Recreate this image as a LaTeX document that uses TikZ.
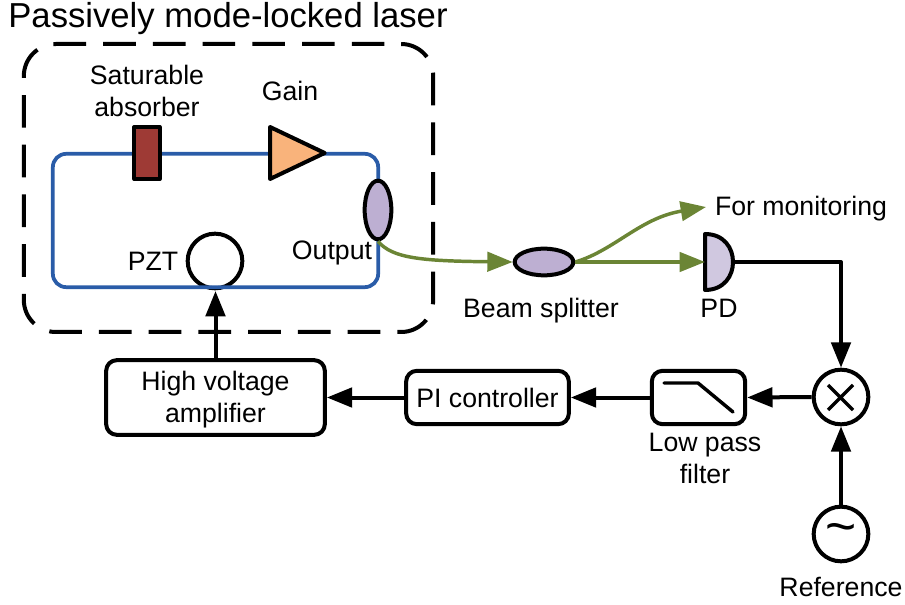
\documentclass[tikz,border=0pt]{standalone}
\usepackage{fontspec}
\setmainfont{Liberation Sans}
\usetikzlibrary{arrows.meta,shapes.geometric}
\definecolor{fibreblue}{HTML}{2A5CA8}
\definecolor{fibregreen}{HTML}{6B8535}
\definecolor{sared}{HTML}{9E3A35}
\definecolor{gainorange}{HTML}{F9B37B}
\definecolor{lenspurple}{HTML}{BDAFD2}
\definecolor{pdpurple}{HTML}{D0C8E0}

\begin{document}
\begin{tikzpicture}[x=0.75pt,y=-0.75pt,line join=round,
		every node/.style={font=\fontsize{20}{24}\selectfont,align=center,inner sep=0pt},
		box/.style={draw,line width=3pt,rounded corners=8pt},
		loopline/.style={draw=fibreblue,line width=2.8pt,rounded corners=10pt},
		lens/.style={draw,ellipse,line width=3pt,fill=lenspurple},
		round/.style={draw,circle,line width=3pt,minimum size=41pt},
		signal/.style={line width=3pt,-{Triangle[length=19pt,width=14.5pt]}},
		beam/.style={color=fibregreen,line width=2.6pt,-{Triangle[length=19pt,width=14.5pt]}}]
	\useasboundingbox (0,0) rectangle (905,605);

	\draw (228,19) node [font=\fontsize{26}{30}\selectfont] (title) {Passively mode-locked laser};
	\draw (228.5,188) node [box,dash pattern=on 24.5pt off 12.8pt,dash phase=24.75pt,rounded corners=24pt,minimum width=307pt,minimum height=216pt] (cavity) {};
	\draw (215,261) node [round,fill=white] (pzt) {};
	\draw (215.5,220.5) node [loopline,minimum width=244pt,minimum height=100pt] (ring) {};

	\draw (147,153) node [draw,line width=3pt,fill=sared,minimum width=19pt,minimum height=39pt] (sa) {};
	\draw (268,153) node [draw,line width=3pt,fill=gainorange,isosceles triangle,isosceles triangle stretches,minimum width=39pt,minimum height=41pt,anchor=west] (gain) {};
	\draw (378,210) node [lens,minimum width=20pt,minimum height=44pt] (outp) {};
	\draw (215.5,291) coordinate (ringlow);
	\draw (544,262) node [lens,minimum width=44pt,minimum height=20pt] (bs) {};
	\draw (705,262) coordinate (pdin);
	\draw (733,262) coordinate (pdout);
	\draw (706,207) coordinate (mon);
	\draw [line width=3pt,fill=pdpurple] (705,234) .. controls (724,234) and (733,248) .. (pdout) .. controls (733,276) and (724,290) .. (705,290) -- cycle;

	\draw (841,397) node [round] (mixer) {};
	\draw (841,534) node [round] (refosc) {\fontsize{40}{40}\selectfont\textasciitilde};
	\draw (698.5,397.5) node [box,minimum width=70pt,minimum height=40pt] (lpf) {};
	\draw (487.5,397.5) node [box,minimum width=122pt,minimum height=40pt] (pic) {PI controller};
	\draw (215.5,397.5) node [box,minimum width=164pt,minimum height=56pt] (hva) {\rule{0pt}{18pt}High voltage\\amplifier};

	% labels
	\draw (147,91) node (salabel) {Saturable\\absorber};
	\draw (290,91) node (gainlabel) {Gain};
	\draw (153,261) node (pztlabel) {PZT};
	\draw (332,253) node (outplabel) {Output};
	\draw (541,311) node (bslabel) {Beam splitter};
	\draw (719,308) node (pdlabel) {PD};
	\draw (801,209) node (monlabel) {For monitoring};
	\draw (705,458) node (lpflabel) {Low pass\\filter};
	\draw (841,587) node (reflabel) {Reference};

	% symbols inside the mixer and the filter
	\draw [line width=2.6pt] (828,385) -- (853,410) (853,385) -- (828,410);
	\draw [line width=2.6pt,line cap=round] (664,383) -- (698,383) -- (733,412);

	\draw [beam] (outp.south) .. controls (392,258) and (420,261) .. (bs.west);
	\draw [beam] (bs.east) -- (pdin);
	\draw [beam] (bs.east) .. controls (615,250) and (640,218) .. (mon);

	\draw [signal] (pdout) -| (mixer.north);
	\draw [signal] (refosc.north) -- (mixer.south);
	\draw [signal] (mixer.west) -- (lpf.east);
	\draw [signal] (lpf.west) -- (pic.east);
	\draw [signal] (pic.west) -- (hva.east);
	\draw [signal] (hva.north) -- (ringlow);
\end{tikzpicture}
\end{document}
